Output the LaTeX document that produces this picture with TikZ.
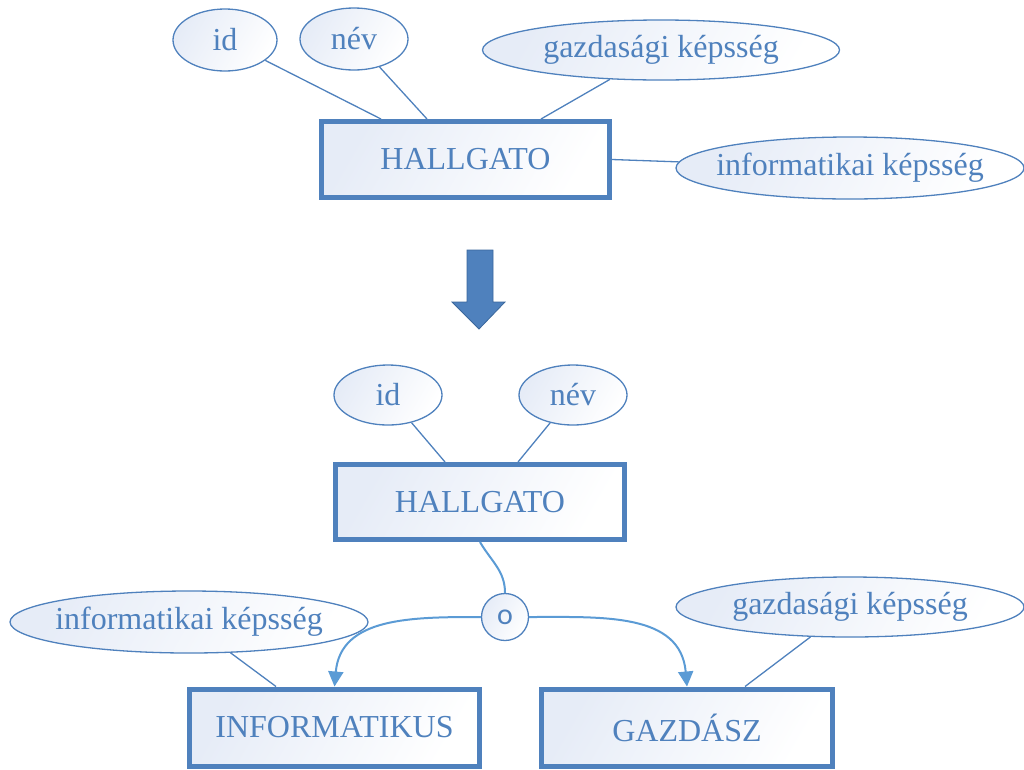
\documentclass[tikz,border=0pt]{standalone}
\usepackage{fontspec}
\setmainfont{Liberation Serif}
\newfontfamily\circfont{Carlito}
\usetikzlibrary{shapes.geometric,arrows.meta}
\definecolor{erblue}{HTML}{4F81BD}
\definecolor{erlight}{HTML}{5B9BD5}
\definecolor{erdark}{HTML}{3A679C}
\definecolor{erfill}{HTML}{E6ECF7}
\begin{document}
\begin{tikzpicture}[x=1pt,y=-1pt,
  every node/.style={text=erblue,font=\fontsize{32}{38}\selectfont},
  entity/.style={rectangle,draw=erblue,line width=5pt,inner sep=0pt,
    left color=erfill,right color=white,shading angle=60},
  % attribute ellipses: exact size, text placed as a centred label
  attrib/.style={ellipse,draw=erblue,line width=1.3pt,inner sep=0pt,
    left color=erfill,right color=white,shading angle=60,
    label={[text=erblue]center:#1}},
  link/.style={draw=erblue,line width=1.3pt},
  isa/.style={draw=erlight,line width=2pt,-{Triangle[width=15pt,length=15pt]}},
]
\useasboundingbox (0,0) rectangle (1024,769);

% --- single entity with all attributes ---
\node[entity,minimum width=288pt,minimum height=76pt] (h1) at (465.5,159.5) {HALLGATO};
\node[attrib=id,minimum width=104pt,minimum height=62pt] (id1) at (225,40) {};
\node[attrib=név,minimum width=108pt,minimum height=62pt] (nev1) at (354,39) {};
\node[attrib=gazdasági képsség,minimum width=357pt,minimum height=60pt] (gaz1) at (661,50) {};
\node[attrib=informatikai képsség,minimum width=348pt,minimum height=62pt] (inf1) at (850,168) {};

\draw[link] (id1) -- ([xshift=-84.5pt]h1.north);
\draw[link] (nev1) -- ([xshift=-38.5pt]h1.north);
\draw[link] (gaz1) -- ([xshift=75.5pt]h1.north);
\draw[link] (h1.east) -- (inf1);

% --- transformation arrow ---
\draw[fill=erblue,draw=erdark,line width=0.8pt]
  (467,250) -- (493,250) -- (493,302) -- (505,302) -- (479,329)
  -- (452,302) -- (467,302) -- cycle;

% --- specialised entities ---
\node[entity,minimum width=289pt,minimum height=75pt] (h2) at (480,502) {HALLGATO};
\node[attrib=id,minimum width=108pt,minimum height=60pt] (id2) at (388,395) {};
\node[attrib=név,minimum width=108pt,minimum height=60pt] (nev2) at (573,395) {};
\draw[link] (id2) -- ([xshift=-35pt]h2.north);
\draw[link] (nev2) -- ([xshift=38pt]h2.north);

\node[circle,draw=erblue,line width=1.3pt,minimum size=47pt,inner sep=0pt,
  left color=erfill,right color=white,shading angle=60,
  font=\circfont\fontsize{30}{30}\selectfont] (o) at (505,617) {o};

\node[entity,minimum width=290pt,minimum height=77pt] (inf) at (334.5,727.5) {INFORMATIKUS};
\node[entity,minimum width=291pt,minimum height=77pt] (gazd) at (687,727.5) {GAZDÁSZ};
\node[attrib=informatikai képsség,minimum width=358pt,minimum height=62pt] (inf2) at (189,622) {};
\node[attrib=gazdasági képsség,minimum width=348pt,minimum height=60pt] (gaz2) at (850,607) {};

\draw[link] (inf2) -- ([xshift=-58.5pt]inf.north);
\draw[link] (gaz2) -- ([xshift=58pt]gazd.north);

\draw[draw=erlight,line width=2pt] (h2.south) to[out=-60,in=90] (o.north);
\draw[isa] (o.west) to[out=180,in=85,looseness=1.1] (inf.north);
\draw[isa] (o.east) to[out=0,in=95,looseness=1.1] (gazd.north);
\end{tikzpicture}
\end{document}
